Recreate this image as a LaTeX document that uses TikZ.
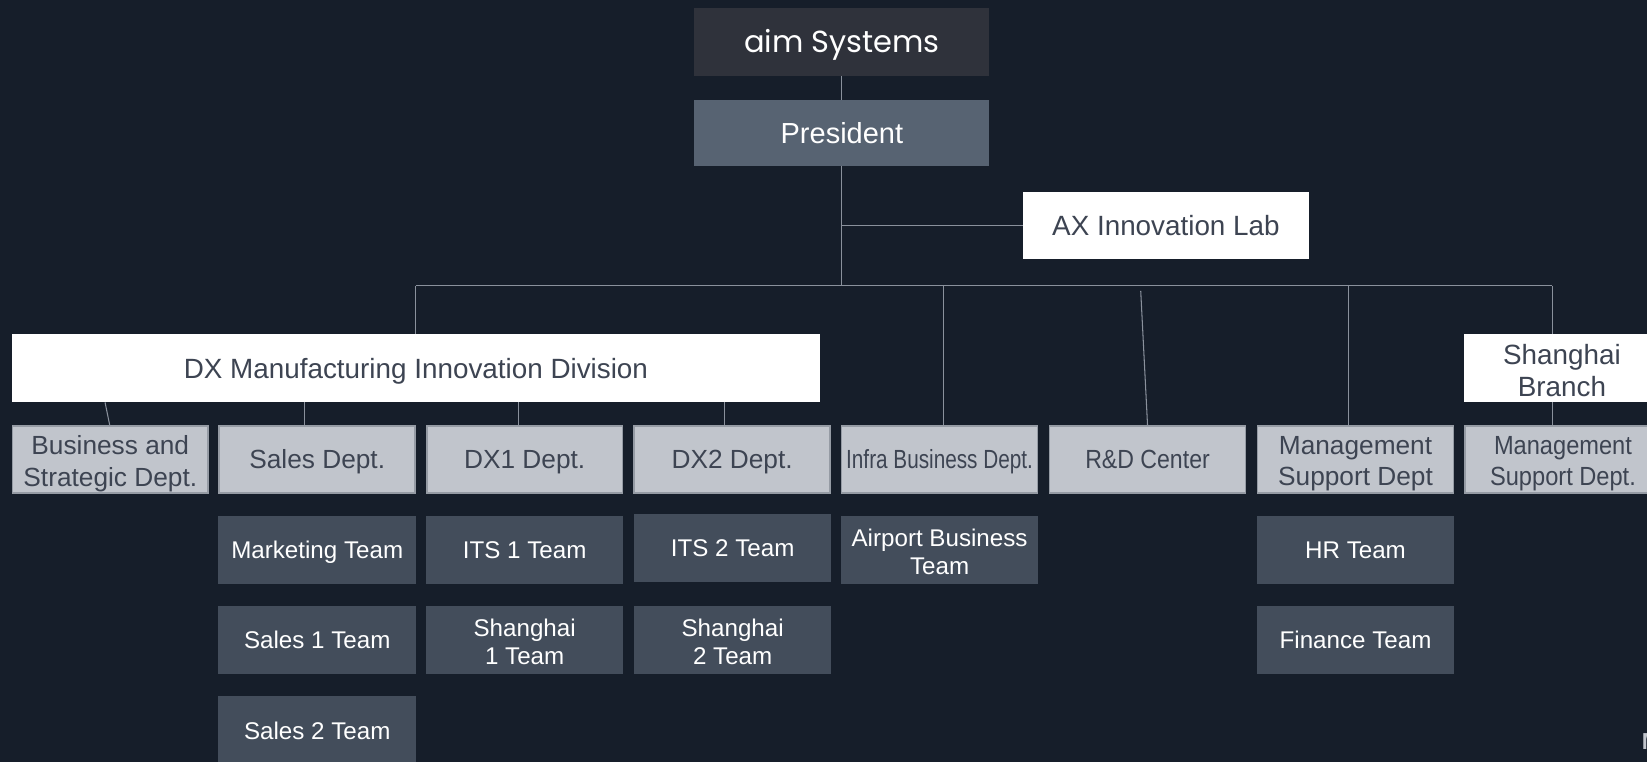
\documentclass[tikz,border=0pt]{standalone}
\usepackage{fontspec}
\usepackage{graphicx}
\setmainfont{Liberation Sans}
\newfontfamily\logofont{Poppins}
\definecolor{bgc}{HTML}{161E2A}
\definecolor{aimc}{HTML}{2F323B}
\definecolor{presc}{HTML}{576372}
\definecolor{teamc}{HTML}{434D5B}
\definecolor{deptc}{HTML}{C1C5CC}
\definecolor{deptb}{HTML}{959BA4}
\definecolor{darktext}{HTML}{3D4452}
\definecolor{linec}{HTML}{8A919C}
\newcommand{\lw}[2][4.5pt]{\raisebox{-#1}[\height][\depth]{#2}}
\tikzset{
  x=1pt, y=-1pt,
  box/.style={rectangle, inner sep=0pt, align=center, minimum width=188pt, minimum height=65pt,
    execute at begin node={\rule{0pt}{0.966em}},
    execute at end node={\rule[-0.25em]{0pt}{0.25em}}},
  topbox/.style={box, fill=aimc, text=white, minimum width=281pt, minimum height=64pt, font=\logofont\fontsize{29}{34}\selectfont},
  presbox/.style={box, fill=presc, text=white, minimum width=281pt, minimum height=63pt, font=\fontsize{27.6}{32}\selectfont},
  whitebox/.style={box, fill=white, text=darktext, font=\fontsize{26.5}{30.5}\selectfont},
  deptbox/.style={box, fill=deptc, draw=deptb, line width=1.5pt, text=darktext, minimum width=186.5pt, minimum height=63.5pt, font=\fontsize{25}{30}\selectfont},
  teambox/.style={box, fill=teamc, text=white, font=\fontsize{23}{27}\selectfont},
  conn/.style={draw=linec, line width=1pt},
}
\begin{document}
\begin{tikzpicture}
\fill[bgc] (0,0) rectangle (1568,725);
\useasboundingbox (0,0) rectangle (1568,725);

% top
\node[topbox] (aim) at (801.5,40) {aim Systems};
\node[presbox] (pres) at (801.5,126.5) {President};
\node[whitebox, minimum width=272pt, minimum height=64pt] (ax) at (1110,215) {AX Innovation Lab};

% divisions
\node[whitebox, minimum width=770pt] (dx) at (396,350.5) {DX Manufacturing Innovation Division};
\node[whitebox, minimum width=186pt] (shb) at (1487,350.5) {\lw[5.5pt]{Shanghai}\\\lw[5.5pt]{Branch}};

% departments
\node[deptbox] (bsd) at (105,437.5) {\lw{Business and}\\\lw{Strategic Dept.}};
\node[deptbox] (sales) at (302,437.5) {Sales Dept.};
\node[deptbox] (dxa) at (499.5,437.5) {DX1 Dept.};
\node[deptbox] (dxb) at (697,437.5) {DX2 Dept.};
\node[deptbox] (infra) at (894.5,437.5) {\scalebox{0.79}[1]{Infra Business Dept.}};
\node[deptbox] (rnd) at (1092.5,437.5) {\scalebox{0.88}[1]{R\&D Center}};
\node[deptbox] (msd) at (1290.5,437.5) {\lw{Management}\\\lw{Support Dept}};
\node[deptbox] (smsd) at (1488,437.5) {\lw{\scalebox{0.9}[1]{Management}}\\\lw{\scalebox{0.9}[1]{Support Dept.}}};

% teams
\node[teambox] (mkt) at (302,523.5) {Marketing Team};
\node[teambox] (sa) at (302,609.5) {Sales 1 Team};
\node[teambox] (sb) at (302,695.5) {Sales 2 Team};
\node[teambox] (itsa) at (499.5,523.5) {ITS 1 Team};
\node[teambox] (sha) at (499.5,609.5) {\lw{Shanghai}\\\lw{1 Team}};
\node[teambox] (itsb) at (697.5,521.5) {ITS 2 Team};
\node[teambox] (shbt) at (697.5,609.5) {\lw{Shanghai}\\\lw{2 Team}};
\node[teambox] (apt) at (894.5,523.5) {\lw{Airport Business}\\\lw{Team}};
\node[teambox] (hr) at (1290.5,523.5) {HR Team};
\node[teambox] (fin) at (1290.5,609.5) {Finance Team};

% stray glyph at lower right (cut by the edge)
\node[text=deptc, font=\bfseries\fontsize{22}{24}\selectfont, anchor=base west, inner sep=0pt] (frag) at (1563,714) {M};

% connectors
\coordinate (pjoin) at (801.5,272);
\coordinate (axj) at (801.5,215);
\coordinate (busl) at (396,272);
\coordinate (busr) at (1478,272);
\coordinate (binfra) at (898,272);
\coordinate (brnd) at (1086,277);
\coordinate (bmsd) at (1284,272);
\coordinate (dbsd) at (100,383);
\coordinate (dsales) at (290,383);
\coordinate (ddxa) at (494,383);
\coordinate (ddxb) at (690,383);
\coordinate (sbj) at (1478,383);

\draw[conn] (aim.south) -- (pres.north);
\draw[conn] (pres.south) -- (pjoin);
\draw[conn] (axj) -- (ax.west);
\draw[conn] (busl) -- (busr);
\draw[conn] (busl) -- (dx.north);
\draw[conn] (binfra) -- (binfra |- infra.north);
\draw[conn] (brnd) -- (rnd.north);
\draw[conn] (bmsd) -- (bmsd |- msd.north);
\draw[conn] (busr) -- (busr |- shb.north);
\draw[conn] (sbj) -- (sbj |- smsd.north);
\draw[conn] (dbsd) -- ([xshift=-0.5pt]bsd.north);
\draw[conn] (dsales) -- (dsales |- sales.north);
\draw[conn] (ddxa) -- (ddxa |- dxa.north);
\draw[conn] (ddxb) -- (ddxb |- dxb.north);
\end{tikzpicture}
\end{document}
